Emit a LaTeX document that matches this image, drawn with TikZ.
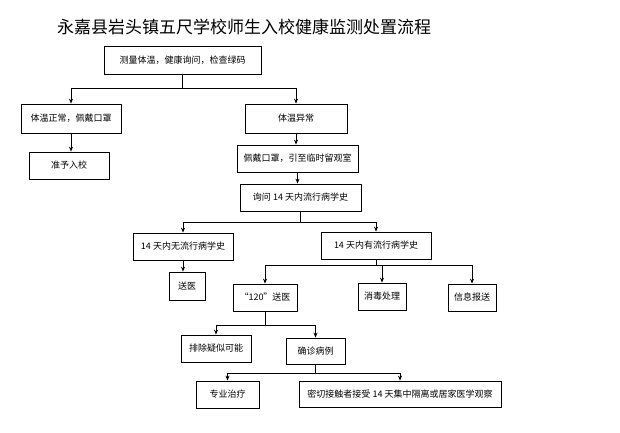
\documentclass[tikz,border=0pt]{standalone}
\usepackage{fontspec}
\setmainfont{Noto Sans CJK SC}
\usetikzlibrary{arrows.meta}
\begin{document}
\begin{tikzpicture}[x=1pt,y=-1pt,
  box/.style={draw,thick,inner sep=0pt,font=\fontsize{9}{10}\selectfont},
  arr/.style={thick,-{Stealth[length=5pt,width=4pt]}},
  ln/.style={thick}]
\useasboundingbox (0,0) rectangle (620,432);
\node[font=\fontsize{17}{19}\selectfont] (title) at (244,27) {永嘉县岩头镇五尺学校师生入校健康监测处置流程};
\newcommand{\bx}[6]{\node[box,minimum width=#3-#2,minimum height=#5-#4] (#1) at ({(#2+#3)/2},{(#4+#5)/2}) {#6};}
\bx{top}{104}{261}{46}{74}{测量体温，健康询问，检查绿码}
\bx{nor}{21}{121}{104}{133}{体温正常，佩戴口罩}
\bx{adm}{29}{109}{152}{179}{准予入校}
\bx{abn}{245}{347}{104}{133}{体温异常}
\bx{mask}{237}{358}{145}{172}{佩戴口罩，引至临时留观室}
\bx{ask}{240}{361}{184}{211}{询问 14 天内流行病学史}
\bx{no}{133}{233}{233}{260}{14 天内无流行病学史}
\bx{yes}{321}{431}{232}{259}{14 天内有流行病学史}
\bx{send}{169}{205}{272}{300}{送医}
\bx{amb}{233}{297}{284}{311}{“120”送医}
\bx{dis}{358}{406}{283}{310}{消毒处理}
\bx{rep}{448}{496}{284}{311}{信息报送}
\bx{exc}{181}{251}{335}{362}{排除疑似可能}
\bx{con}{286}{345}{338}{364}{确诊病例}
\bx{tre}{196}{259}{381}{408}{专业治疗}
\bx{clo}{299}{501}{381}{407}{密切接触者接受 14 天集中隔离或居家医学观察}
\coordinate (j1) at ([yshift=-14]top.south);
\draw[ln] (top.south) -- (j1);
\draw[arr] (j1) -| (nor.north);
\draw[arr] (j1) -| (abn.north);
\draw[arr] (nor.south) -- (nor.south |- adm.north);
\draw[arr] (abn.south) -- (abn.south |- mask.north);
\draw[arr] (mask.south) -- (mask.south |- ask.north);
\coordinate (j2) at ([yshift=-11]ask.south);
\draw[ln] (ask.south) -- (j2);
\draw[arr] (j2) -| (no.north);
\draw[arr] (j2) -| (yes.north);
\draw[arr] (no.south) -- (no.south |- send.north);
\coordinate (j3) at ([yshift=-6]yes.south);
\draw[ln] (yes.south) -- (j3);
\draw[arr] (j3) -| (amb.north);
\draw[arr] (j3) -| (dis.north);
\draw[arr] (j3) -| (rep.north);
\coordinate (j4) at ([yshift=-14]amb.south);
\draw[ln] (amb.south) -- (j4);
\draw[arr] (j4) -| (exc.north);
\draw[arr] (j4) -| (con.north);
\coordinate (j5) at ([yshift=-9]con.south);
\draw[ln] (con.south) -- (j5);
\draw[arr] (j5) -| (tre.north);
\draw[arr] (j5) -| (clo.north);
\end{tikzpicture}
\end{document}
